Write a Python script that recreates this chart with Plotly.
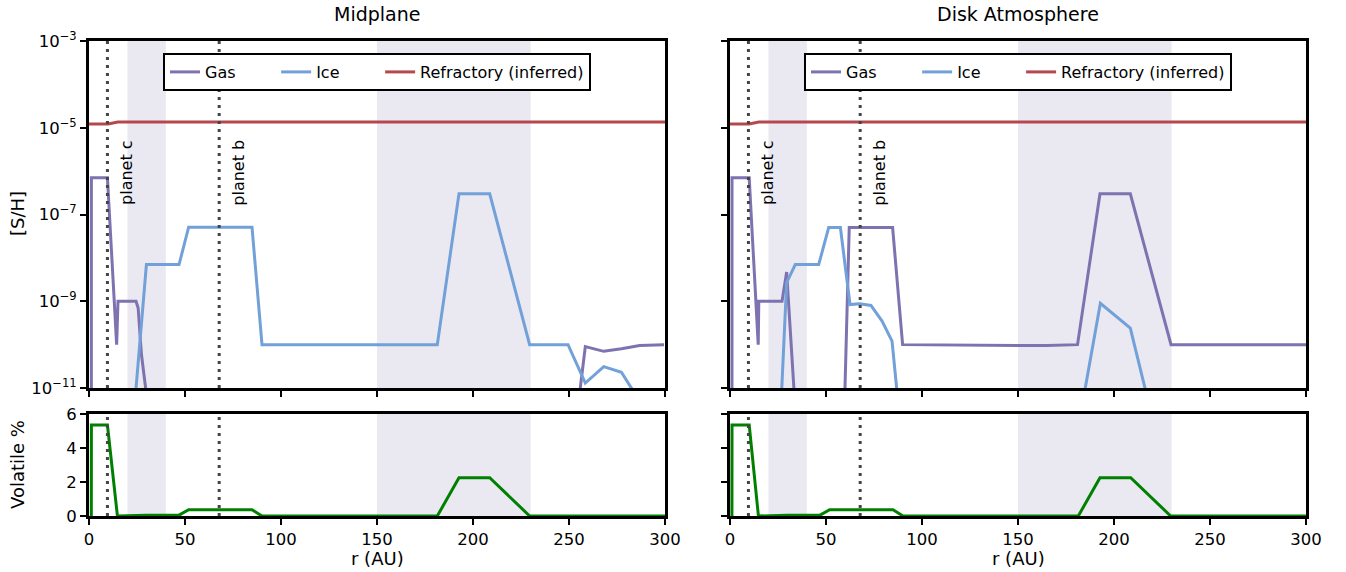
import plotly.graph_objects as go

# ---------------- data ----------------
# Midplane
gas_mid_r = [1.2, 1.25, 9.6, 14.4, 15.1, 24.5, 25.6, 27.3, 29.5, 33.0, 240.0, 249.5, 258.5, 268.1, 277.3, 286.8, 299.5]
gas_mid_v = [1e-20, 7e-7, 7e-7, 1e-10, 1e-9, 1e-9, 7e-10, 6e-11, 1e-11, 1e-20, 1e-20, 5e-14, 9e-11, 7e-11, 8e-11, 9.5e-11, 1e-10]

ice_mid_r = [1.2, 24.0, 24.5, 29.9, 46.9, 51.9, 84.9, 90.1, 181.4, 192.7, 208.7, 229.5, 249.5, 258.5, 268.1, 277.3, 286.8, 299.5]
ice_mid_v = [1e-20, 1e-20, 1e-11, 7e-9, 7e-9, 5.1e-8, 5.1e-8, 1e-10, 1e-10, 3e-7, 3e-7, 1e-10, 1e-10, 1.3e-11, 3.1e-11, 2.3e-11, 5e-12, 1e-13]

ref_mid_r = [0.0, 10.0, 15.0, 150.0, 175.0, 195.0, 215.0, 235.0, 300.0]
ref_mid_v = [1.22e-5, 1.22e-5, 1.35e-5, 1.35e-5, 1.32e-5, 1.3e-5, 1.32e-5, 1.35e-5, 1.35e-5]

# Disk atmosphere
gas_atm_r = [1.0, 1.05, 10.0, 14.7, 15.0, 27.1, 29.5, 34.0, 46.0, 57.5, 62.1, 84.7, 89.9, 150.0, 165.0, 181.0, 192.7, 208.5, 229.7, 300.0]
gas_atm_v = [1e-20, 7e-7, 7e-7, 1e-10, 1e-9, 1e-9, 4.7e-9, 5e-12, 1e-20, 1e-15, 5e-8, 5e-8, 1e-10, 9.6e-11, 9.5e-11, 1e-10, 3e-7, 3e-7, 1e-10, 1e-10]

ice_atm_r = [1.0, 24.0, 24.5, 29.5, 34.0, 46.2, 51.4, 57.5, 62.5, 67.5, 73.4, 79.2, 84.4, 86.8, 89.9, 100.0, 170.0, 181.0, 192.9, 208.5, 229.7, 240.0, 300.0]
ice_atm_v = [1e-20, 1e-20, 4e-14, 2.7e-9, 7e-9, 7e-9, 5e-8, 5e-8, 8.4e-10, 8.8e-10, 8e-10, 3.5e-10, 1.2e-10, 1e-11, 4e-13, 1e-20, 1e-20, 1e-12, 9e-10, 2.4e-10, 3.5e-14, 1e-20, 1e-20]

ref_atm_r = [0.0, 10.0, 15.0, 150.0, 175.0, 195.0, 215.0, 235.0, 300.0]
ref_atm_v = [1.22e-5, 1.22e-5, 1.35e-5, 1.35e-5, 1.32e-5, 1.3e-5, 1.32e-5, 1.35e-5, 1.35e-5]

# Volatile percentage
vol_mid_r = [1.2, 1.25, 9.6, 14.8, 29.9, 46.9, 51.9, 84.9, 90.1, 181.4, 192.7, 208.7, 229.5, 300.0]
vol_mid_v = [0.0, 5.35, 5.35, 0.0, 0.05, 0.05, 0.37, 0.37, 0.0, 0.0, 2.25, 2.25, 0.0, 0.0]
vol_atm_r = [1.0, 1.05, 10.0, 14.8, 29.9, 46.9, 51.9, 84.9, 90.1, 181.4, 192.7, 208.7, 229.5, 300.0]
vol_atm_v = [0.0, 5.35, 5.35, 0.0, 0.05, 0.05, 0.37, 0.37, 0.0, 0.0, 2.25, 2.25, 0.0, 0.0]

planets = {"planet c": 9.6, "planet b": 67.8}
spans = [(20, 40), (150, 230)]

log_tickvals = [1e-11, 1e-9, 1e-7, 1e-5, 1e-3]
log_ticktext = ["10<sup>\u221211</sup>", "10<sup>\u22129</sup>", "10<sup>\u22127</sup>",
                "10<sup>\u22125</sup>", "10<sup>\u22123</sup>"]
x_ticks = [0, 50, 100, 150, 200, 250, 300]
legend_names = ["Gas", "Ice", "Refractory (inferred)"]

# ---------------- styling ----------------
W, H = 1346, 572
C_GAS = "#7f72b0"
C_ICE = "#72a0d8"
C_REF = "#b5484c"
C_VOL = "#008000"
FONT = "DejaVu Sans"
PAD = "\u00a0" * 7
TICK_SIZE = 16.5
LABEL_SIZE = 18
TITLE_SIZE = 19
LEG_SIZE = 16


def px_x(a, b):
    return [a / W, b / W]


def px_y(top, bottom):
    return [1 - bottom / H, 1 - top / H]


fig = go.Figure()

panels = [
    dict(xa="x", ya="y", leg="legend", gas=(gas_mid_r, gas_mid_v), ice=(ice_mid_r, ice_mid_v),
         ref=(ref_mid_r, ref_mid_v)),
    dict(xa="x2", ya="y2", leg="legend2", gas=(gas_atm_r, gas_atm_v), ice=(ice_atm_r, ice_atm_v),
         ref=(ref_atm_r, ref_atm_v)),
]
for p in panels:
    for i, (key, col) in enumerate([("gas", C_GAS), ("ice", C_ICE), ("ref", C_REF)]):
        r, v = p[key]
        label = legend_names[i] + (PAD if i < 2 else "")
        fig.add_trace(go.Scatter(x=r, y=v, mode="lines", name=label, xaxis=p["xa"], yaxis=p["ya"],
                                 legend=p["leg"], line=dict(color=col, width=3)))

fig.add_trace(go.Scatter(x=vol_mid_r, y=vol_mid_v, mode="lines", showlegend=False, xaxis="x3", yaxis="y3",
                         line=dict(color=C_VOL, width=3), cliponaxis=False))
fig.add_trace(go.Scatter(x=vol_atm_r, y=vol_atm_v, mode="lines", showlegend=False, xaxis="x4", yaxis="y4",
                         line=dict(color=C_VOL, width=3), cliponaxis=False))

shapes = []
annotations = []
for xa, ya, top in [("x", "y", True), ("x2", "y2", True), ("x3", "y3", False), ("x4", "y4", False)]:
    for a, b in spans:
        shapes.append(dict(type="rect", xref=xa, yref=ya + " domain", x0=a, x1=b, y0=0, y1=1,
                           fillcolor="#eae9f2", line=dict(width=0), layer="below"))
    for name, rp in planets.items():
        shapes.append(dict(type="line", xref=xa, yref=ya + " domain", x0=rp, x1=rp, y0=0, y1=1,
                           line=dict(color="#454545", width=3, dash="3px,5px"), layer="above"))
        if top:
            annotations.append(dict(text=name, x=rp, xref=xa, y=0.621, yref=ya + " domain",
                                    textangle=-90, showarrow=False, xanchor="center", yanchor="middle",
                                    xshift=19, font=dict(size=LEG_SIZE, color="black", family=FONT)))

annotations += [
    dict(text="Midplane", x=377 / W, y=1 - 14 / H, xref="paper", yref="paper", showarrow=False,
         xanchor="center", yanchor="middle", font=dict(size=TITLE_SIZE, color="black", family=FONT)),
    dict(text="Disk Atmosphere", x=1018 / W, y=1 - 14 / H, xref="paper", yref="paper", showarrow=False,
         xanchor="center", yanchor="middle", font=dict(size=TITLE_SIZE, color="black", family=FONT)),
    dict(text="r (AU)", x=377 / W, y=1 - 558 / H, xref="paper", yref="paper", showarrow=False,
         xanchor="center", yanchor="middle", font=dict(size=LABEL_SIZE, color="black", family=FONT)),
    dict(text="r (AU)", x=1018 / W, y=1 - 558 / H, xref="paper", yref="paper", showarrow=False,
         xanchor="center", yanchor="middle", font=dict(size=LABEL_SIZE, color="black", family=FONT)),
    dict(text="[S/H]", x=17 / W, y=1 - 214 / H, xref="paper", yref="paper", showarrow=False,
         textangle=-90, xanchor="center", yanchor="middle",
         font=dict(size=LABEL_SIZE, color="black", family=FONT)),
    dict(text="Volatile %", x=17 / W, y=1 - 465 / H, xref="paper", yref="paper", showarrow=False,
         textangle=-90, xanchor="center", yanchor="middle",
         font=dict(size=LABEL_SIZE, color="black", family=FONT)),
]

axis_common = dict(showline=True, linecolor="black", linewidth=3, mirror=True, ticks="outside",
                   ticklen=6, tickwidth=2, tickcolor="black", showgrid=False, zeroline=False,
                   automargin=False, tickfont=dict(size=TICK_SIZE, color="black", family=FONT))

xl = px_x(89, 665)
xr = px_x(730, 1306)
yt = px_y(41, 388)
yb = px_y(414, 516)

leg_common = dict(orientation="h", y=1 - 72 / H, xanchor="center", yanchor="middle",
                  bgcolor="white", bordercolor="black", borderwidth=2,
                  font=dict(size=LEG_SIZE, color="black", family=FONT))

fig.update_layout(
    template="none",
    width=W, height=H, margin=dict(l=0, r=0, t=0, b=0, autoexpand=False),
    plot_bgcolor="white", paper_bgcolor="white",
    font=dict(family=FONT, color="black"),
    xaxis=dict(domain=xl, anchor="y", range=[0, 300], tickvals=x_ticks, showticklabels=False, **axis_common),
    yaxis=dict(domain=yt, anchor="x", type="log", range=[-11, -3], tickvals=log_tickvals,
               ticktext=log_ticktext, **axis_common),
    xaxis2=dict(domain=xr, anchor="y2", range=[0, 300], tickvals=x_ticks, showticklabels=False, **axis_common),
    yaxis2=dict(domain=yt, anchor="x2", type="log", range=[-11, -3], tickvals=log_tickvals,
                showticklabels=False, **axis_common),
    xaxis3=dict(domain=xl, anchor="y3", range=[0, 300], tickvals=x_ticks, **axis_common),
    yaxis3=dict(domain=yb, anchor="x3", range=[0, 6], tickvals=[0, 2, 4, 6], **axis_common),
    xaxis4=dict(domain=xr, anchor="y4", range=[0, 300], tickvals=x_ticks, **axis_common),
    yaxis4=dict(domain=yb, anchor="x4", range=[0, 6], tickvals=[0, 2, 4, 6], showticklabels=False,
                **axis_common),
    legend=dict(x=377 / W, **leg_common),
    legend2=dict(x=1018 / W, **leg_common),
    shapes=shapes,
    annotations=annotations,
)

fig.write_html("out.html")
